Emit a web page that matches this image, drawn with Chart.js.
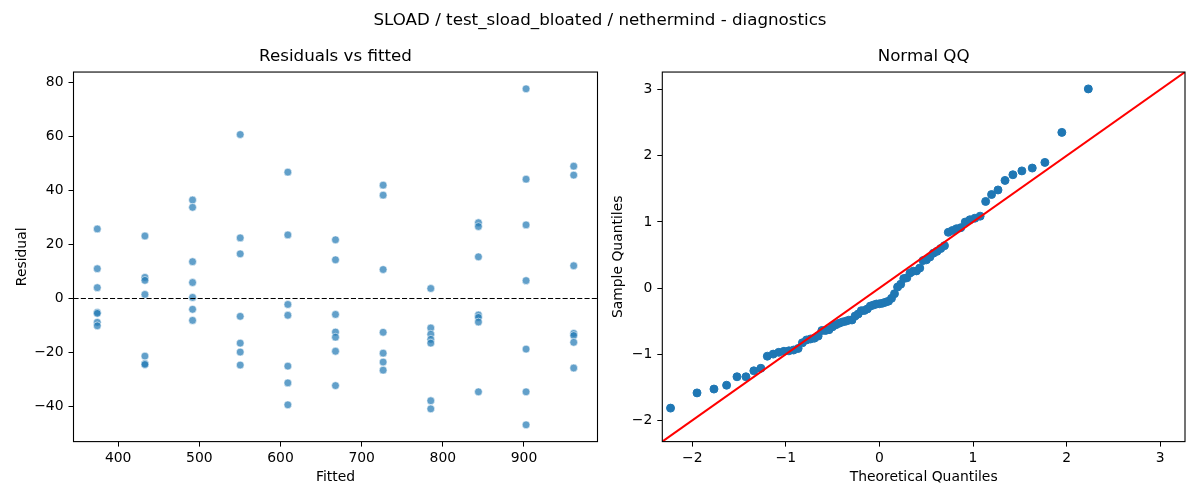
<!DOCTYPE html>
<html><head><meta charset="utf-8">
<script src="https://cdn.jsdelivr.net/npm/chart.js@4.4.1/dist/chart.umd.min.js"></script>
<style>
html,body{margin:0;padding:0;background:#fff;}
#wrap{position:relative;width:1200px;height:500px;overflow:hidden;background:#fff;}
canvas{position:absolute;left:0;top:0;}
#sup{position:absolute;left:0;top:9px;width:1200px;height:20px;line-height:20px;text-align:center;font-family:"DejaVu Sans";font-size:16.7px;color:#000;}
</style></head>
<body>
<div id="wrap">
<canvas id="c1" width="1200" height="500"></canvas>
<canvas id="c2" width="1200" height="500"></canvas>
<div id="sup">SLOAD / test_sload_bloated / nethermind - diagnostics</div>
</div>
<script>
// ---- data ----
const FITTED_LEVELS = [374.3, 433.0, 491.7, 550.4, 609.1, 667.8, 726.5, 785.2, 843.9, 902.6, 961.3];
const RESIDUALS_BY_LEVEL = [
  [25.7, 11.0, 4.0, -5.1, -5.5, -8.8, -10.1],
  [23.1, 7.8, 6.7, 1.5, -21.3, -24.1, -24.4],
  [36.4, 33.7, 13.6, 5.9, 0.4, -4.0, -8.1],
  [60.6, 22.4, 16.5, -6.6, -16.5, -19.8, -24.6],
  [46.7, 23.5, -2.2, -6.2, -25.0, -31.2, -39.3],
  [21.7, 14.3, -5.9, -12.4, -14.3, -19.5, -32.2],
  [41.9, 38.2, 10.7, -12.5, -20.2, -23.5, -26.5],
  [3.7, -10.9, -13.2, -15.1, -16.5, -37.8, -40.8],
  [28.0, 26.6, 15.4, -6.1, -7.0, -8.7, -34.5],
  [77.5, 44.1, 27.2, 6.6, -18.7, -34.5, -46.7],
  [48.9, 45.6, 12.1, -12.9, -13.7, -16.2, -25.7]
];
const LEFT_X_TICKS = [400, 500, 600, 700, 800, 900];
const LEFT_Y_TICKS = [-40, -20, 0, 20, 40, 60, 80];
const LEFT_X_LIMITS = [345, 990.6];
const LEFT_Y_LIMITS = [-52.9, 83.7];
const ZERO_LEVEL = 0;

const QQ_THEORETICAL = [
  -2.232,-1.949,-1.768,-1.633,-1.522,-1.426,-1.342,-1.267,-1.198,-1.135,
  -1.076,-1.020,-0.967,-0.917,-0.869,-0.823,-0.779,-0.736,-0.695,-0.655,
  -0.615,-0.577,-0.539,-0.502,-0.466,-0.431,-0.396,-0.361,-0.327,-0.293,
  -0.260,-0.227,-0.194,-0.161,-0.129,-0.097,-0.064,-0.032,0.000,
  0.032,0.064,0.097,0.129,0.161,0.194,0.227,0.260,0.293,0.327,
  0.361,0.396,0.431,0.466,0.502,0.539,0.577,0.615,0.655,0.695,
  0.736,0.779,0.823,0.869,0.917,0.967,1.020,1.076,1.135,1.198,
  1.267,1.342,1.426,1.522,1.633,1.768,1.949,2.232
];
const QQ_SAMPLE = [
  -1.814,-1.584,-1.526,-1.468,-1.340,-1.340,-1.250,-1.212,-1.029,-0.998,
  -0.971,-0.955,-0.948,-0.936,-0.913,-0.827,-0.784,-0.769,-0.757,-0.726,
  -0.641,-0.641,-0.629,-0.586,-0.555,-0.532,-0.513,-0.501,-0.485,-0.482,
  -0.423,-0.392,-0.342,-0.338,-0.315,-0.272,-0.256,-0.241,-0.237,
  -0.229,-0.214,-0.198,-0.155,-0.085,0.016,0.058,0.144,0.155,0.229,
  0.256,0.260,0.303,0.416,0.427,0.470,0.528,0.555,0.598,0.641,
  0.843,0.870,0.897,0.913,0.998,1.033,1.056,1.087,1.309,1.414,
  1.483,1.627,1.713,1.771,1.814,1.899,2.353,3.010
];
const QQ_TICKS = [-2, -1, 0, 1, 2, 3];
const QQ_LIMITS = [-2.32, 3.265];

// ---- helpers ----
const FONT = 'DejaVu Sans';
const fmt = v => (v < 0 ? '\u2212' + Math.abs(v) : String(v));

function axis(horizontal, ticksArr, limits, title, titlePad, size) {
  return {
    type: 'linear',
    position: horizontal ? 'bottom' : 'left',
    min: limits[0], max: limits[1],
    afterBuildTicks: s => { s.ticks = ticksArr.map(v => ({ value: v })); },
    afterFit: s => { if (horizontal) s.height = size; else s.width = size; },
    grid: { display: true, drawOnChartArea: false, drawTicks: true, tickLength: 5, color: '#000', lineWidth: 1 },
    border: { display: false },
    ticks: {
      color: '#000', font: { family: FONT, size: 13.9, lineHeight: 1.2 },
      padding: horizontal ? 3.5 : 5, callback: fmt, maxRotation: 0, autoSkip: false
    },
    title: {
      display: true, text: title, color: '#000',
      font: { family: FONT, size: 13.9, lineHeight: 1.2 },
      padding: titlePad
    }
  };
}

const boxPlugin = {
  id: 'box',
  afterDraw(chart) {
    const { ctx, chartArea: a } = chart;
    ctx.save();
    ctx.strokeStyle = '#000';
    ctx.lineWidth = 1.1;
    ctx.strokeRect(a.left, a.top, a.right - a.left, a.bottom - a.top);
    ctx.restore();
  }
};

function titleOpts(text) {
  return {
    display: true, text, color: '#000', fullSize: false,
    font: { family: FONT, size: 16.7, weight: 'normal', lineHeight: 1.2 },
    padding: { top: 46.8, bottom: 5.2 }
  };
}

// ---- left: residuals vs fitted ----
const residualPoints = [];
FITTED_LEVELS.forEach((f, i) => RESIDUALS_BY_LEVEL[i].forEach(r => residualPoints.push({ x: f, y: r })));

new Chart(document.getElementById('c1'), {
  type: 'scatter',
  data: {
    datasets: [
      {
        data: [{ x: LEFT_X_LIMITS[0], y: ZERO_LEVEL }, { x: LEFT_X_LIMITS[1], y: ZERO_LEVEL }],
        showLine: true, borderColor: '#000', borderWidth: 1.1, borderDash: [5.1, 2.2],
        pointRadius: 0, fill: false
      },
      {
        data: residualPoints,
        pointRadius: 3.9, pointHoverRadius: 3.9,
        backgroundColor: 'rgba(31,119,180,0.7)',
        borderColor: 'rgba(255,255,255,0.7)', borderWidth: 0.8
      }
    ]
  },
  options: {
    responsive: false, animation: false, devicePixelRatio: 1,
    layout: { padding: { left: 0, right: 602.5, top: 0, bottom: 0 } },
    plugins: { legend: { display: false }, tooltip: { enabled: false }, title: titleOpts('Residuals vs fitted') },
    scales: {
      x: axis(true, LEFT_X_TICKS, LEFT_X_LIMITS, 'Fitted', { top: 0, bottom: 14.7 }, 58.4),
      y: axis(false, LEFT_Y_TICKS, LEFT_Y_LIMITS, 'Residual', { top: 13.7, bottom: 0 }, 73.5)
    }
  },
  plugins: [boxPlugin]
});

// ---- right: normal QQ ----
const qqPoints = QQ_THEORETICAL.map((t, i) => ({ x: t, y: QQ_SAMPLE[i] }));

new Chart(document.getElementById('c2'), {
  type: 'scatter',
  data: {
    datasets: [
      {
        data: [{ x: QQ_LIMITS[0], y: QQ_LIMITS[0] }, { x: QQ_LIMITS[1], y: QQ_LIMITS[1] }],
        showLine: true, borderColor: '#ff0000', borderWidth: 2, pointRadius: 0, fill: false
      },
      {
        data: qqPoints,
        pointRadius: 4.0, pointHoverRadius: 4.0,
        backgroundColor: '#1f77b4', borderColor: '#1f77b4', borderWidth: 1
      }
    ]
  },
  options: {
    responsive: false, animation: false, devicePixelRatio: 1,
    layout: { padding: { left: 600, right: 15, top: 0, bottom: 0 } },
    plugins: { legend: { display: false }, tooltip: { enabled: false }, title: titleOpts('Normal QQ') },
    scales: {
      x: axis(true, QQ_TICKS, QQ_LIMITS, 'Theoretical Quantiles', { top: 0, bottom: 14.7 }, 58.4),
      y: axis(false, QQ_TICKS, QQ_LIMITS, 'Sample Quantiles', { top: 9.7, bottom: 0 }, 62.3)
    }
  },
  plugins: [boxPlugin]
});
</script>
</body></html>
